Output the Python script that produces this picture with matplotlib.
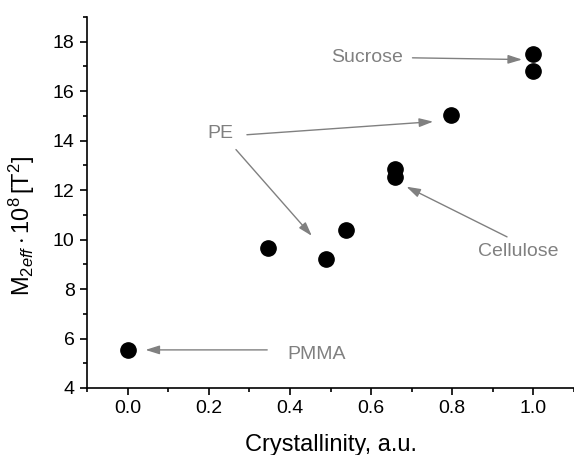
import matplotlib
matplotlib.use("Agg")
import matplotlib.pyplot as plt
from matplotlib.ticker import MultipleLocator

plt.rcParams['font.family'] = ['Liberation Sans', 'DejaVu Sans']
plt.rcParams['mathtext.fontset'] = 'custom'
plt.rcParams['mathtext.rm'] = 'Liberation Sans'
plt.rcParams['mathtext.it'] = 'Liberation Sans:italic'

# data
crystallinity = [0.0, 0.346, 0.488, 0.537, 0.658, 0.658, 0.797, 1.0, 1.0]
m2eff = [5.55, 9.67, 9.21, 10.38, 12.85, 12.52, 15.02, 17.52, 16.80]

# annotations: label, text position, list of (arrow start, arrow end)
ann_labels = ["Sucrose", "PE", "Cellulose", "PMMA"]
ann_text_xy = [(0.589, 17.36), (0.228, 14.28), (0.962, 9.50), (0.466, 5.34)]
ann_arrows = [
    [((0.702, 17.35), (0.972, 17.28))],
    [((0.294, 14.24), (0.753, 14.77)), ((0.267, 13.64), (0.454, 10.15))],
    [((0.935, 10.11), (0.687, 12.14))],
    [((0.344, 5.54), (0.044, 5.54))],
]

fig = plt.figure(figsize=(5.74, 4.55), dpi=100)
ax = fig.add_axes([0.1516, 0.1473, 0.8484, 0.8153])

ax.plot(crystallinity, m2eff, 'o', color='black', markersize=11, linestyle='none')

grey = '#808080'
for lab, txy, arrows in zip(ann_labels, ann_text_xy, ann_arrows):
    ax.text(txy[0], txy[1], lab, color=grey, fontsize=14, ha='center', va='center')
    for s, e in arrows:
        ax.annotate('', xy=e, xytext=s,
                    arrowprops=dict(arrowstyle='-|>,head_length=0.7,head_width=0.22',
                                    color=grey, lw=1.0,
                                    mutation_scale=12, shrinkA=0, shrinkB=0))

ax.set_xlim(-0.1, 1.1)
ax.set_ylim(4, 19)
ax.xaxis.set_major_locator(MultipleLocator(0.2))
ax.xaxis.set_minor_locator(MultipleLocator(0.1))
ax.yaxis.set_major_locator(MultipleLocator(2))
ax.yaxis.set_minor_locator(MultipleLocator(1))
ax.set_xticks([0.0, 0.2, 0.4, 0.6, 0.8, 1.0])
ax.set_xticklabels(['0.0', '0.2', '0.4', '0.6', '0.8', '1.0'])

for side in ['top', 'right']:
    ax.spines[side].set_visible(False)
for side in ['left', 'bottom']:
    ax.spines[side].set_linewidth(1.2)

ax.tick_params(which='major', direction='out', length=5, width=1.2, labelsize=14, pad=4)
ax.tick_params(which='minor', direction='out', length=3, width=1.2)

ax.set_xlabel('Crystallinity, a.u.', fontsize=17)
ax.xaxis.set_label_coords(0.5, -0.124)
ax.set_ylabel(r'$\mathrm{M}_{2\mathit{eff}}\cdot10^{8}\,[\mathrm{T}^{2}]$', fontsize=17)
ax.yaxis.set_label_coords(-0.103, 0.437)

fig.savefig('out.png', dpi=100)
